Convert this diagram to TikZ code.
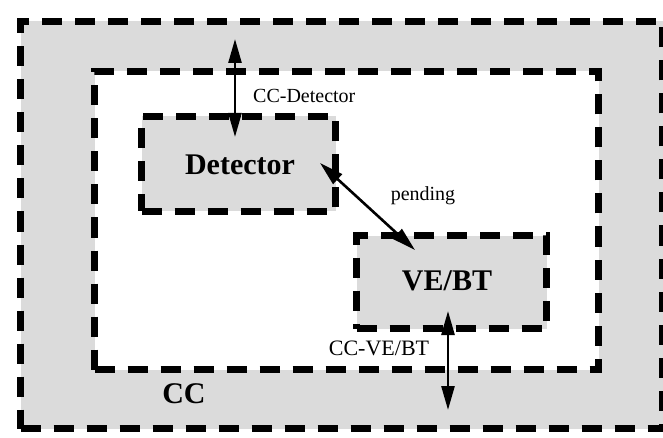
\documentclass[tikz,border=0pt]{standalone}
\usepackage{fontspec}
\setmainfont{Liberation Serif}
\usetikzlibrary{arrows.meta}
\definecolor{stipple}{gray}{0.86}
\tikzset{
  dbox/.style={draw=black, line width=7pt, dash pattern=on 20pt off 13pt, rectangle, inner sep=0pt, anchor=north west},
  bigtext/.style={font=\fontsize{30}{32}\selectfont\bfseries},
  lbl/.style={font=\fontsize{20}{22}\selectfont, inner sep=0pt},
  conn/.style={line width=2.6pt, {Triangle[length=24pt,width=13pt]}-{Triangle[length=24pt,width=13pt]}}
}
\begin{document}
\begin{tikzpicture}[x=1pt,y=-1pt]
\useasboundingbox (0,0) rectangle (663,438);
\node[dbox, fill=stipple, minimum width=642pt, minimum height=407pt] (cc) at (17,18) {};
\node[dbox, fill=white, minimum width=504pt, minimum height=298pt] (inner) at (91,68) {};
\node[dbox, fill=stipple, minimum width=194pt, minimum height=95pt, bigtext] (det) at (138,113) {};
\node[bigtext] (dettext) at (240,165) {Detector};
\node[dbox, fill=stipple, minimum width=190pt, minimum height=93pt] (ve) at (353,232) {};
\node[bigtext] (vetext) at (447,281) {VE/BT};
\node[bigtext] (cctext) at (184,394) {CC};
% connectors
\coordinate (a1) at (235,39);
\coordinate (a2) at (235,137);
\draw[conn] (a1) -- (a2);
\node[lbl, anchor=west] (l1) at (253,96) {CC-Detector};
\coordinate (p1) at (320,163);
\coordinate (p2) at (415,250);
\draw[conn] (p1) -- (p2);
\node[lbl] (l2) at (423,196) {pending};
\coordinate (b1) at (448,311);
\coordinate (b2) at (448,410);
\draw[conn] (b1) -- (b2);
\node[lbl, font=\fontsize{22}{24}\selectfont] (l3) at (379,348) {CC-VE/BT};
\end{tikzpicture}
\end{document}
